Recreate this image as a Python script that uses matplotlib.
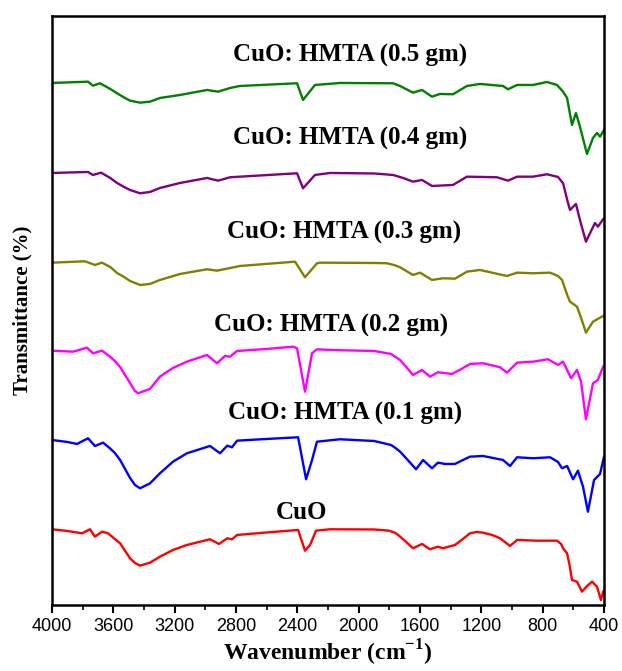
import matplotlib
matplotlib.use("Agg")
import matplotlib.pyplot as plt
from matplotlib.ticker import MultipleLocator

# Espectros FTIR (numero de onda, altura em unidades arbitrarias)
wn_cuo = [4000, 3900, 3804, 3752, 3720, 3674, 3635, 3590, 3556, 3491, 3459, 3426, 3361, 3296,
          3211, 3120, 2970, 2911, 2857, 2826, 2793, 2600, 2395, 2350, 2317, 2278, 2187, 1900,
          1802, 1760, 1730, 1690, 1646, 1587, 1535, 1483, 1450, 1372, 1320, 1274, 1230, 1189,
          1130, 1078, 1013, 967, 837, 707, 680, 667, 641, 625, 609, 576, 544, 510, 478, 446,
          420, 406]
t_cuo = [75.7, 74, 71.7, 75.7, 68.3, 73.3, 71.7, 66, 61.7, 46.7, 42, 39.3, 42.3, 48.3,
         55, 60, 65.7, 61, 66.7, 65.7, 70, 72.5, 75, 54.3, 60, 74.3, 75.7, 75.5,
         74.3, 72, 68.3, 63, 56.7, 61, 55.7, 58.3, 56.7, 60, 66, 71.7, 73, 72.3,
         70, 66.7, 59, 65, 64.3, 64.3, 61, 56.7, 51.7, 40, 25, 23.3, 13.3, 19, 23.3, 18.3,
         5, 13.3]

wn_01 = [4000, 3900, 3837, 3765, 3720, 3667, 3622, 3590, 3556, 3491, 3459, 3426, 3361, 3296,
         3211, 3120, 2970, 2904, 2857, 2826, 2793, 2600, 2395, 2343, 2304, 2272, 2122, 1900,
         1789, 1760, 1730, 1680, 1626, 1580, 1522, 1483, 1437, 1372, 1320, 1274, 1189, 1059,
         1013, 967, 863, 752, 700, 674, 641, 602, 570, 537, 505, 465, 426, 400]
t_01 = [165, 163, 161, 166.7, 159, 162.3, 156.7, 152, 145, 127, 120, 116.7, 121.6, 131.7,
        143.3, 151.7, 159, 151.7, 159.3, 157.7, 164.3, 166, 167.7, 125.7, 145, 163.3, 165.7, 164,
        160, 157, 153.3, 145, 135.7, 145, 136.7, 142.3, 141, 141, 145, 148.3, 149, 145,
        139, 147.7, 146.7, 147.7, 143, 136.7, 139, 125.7, 134.3, 118.3, 93.3, 125, 131, 148.3]

wn_02 = [4000, 3863, 3772, 3733, 3674, 3622, 3590, 3556, 3491, 3459, 3439, 3361, 3296, 3211,
         3120, 2989, 2924, 2872, 2839, 2793, 2600, 2428, 2402, 2350, 2304, 2272, 2187, 1900,
         1789, 1760, 1730, 1690, 1646, 1587, 1535, 1483, 1391, 1330, 1274, 1189, 1078, 1033,
         967, 863, 765, 700, 667, 615, 576, 550, 518, 472, 440, 406]
t_02 = [254.3, 253.3, 257.3, 251.7, 254.3, 248.3, 244, 238, 222, 214, 211.7, 216, 228.3, 237,
        243.3, 250, 241.7, 249, 248.3, 254, 256, 258.3, 256.7, 213.3, 251.7, 255.7, 255, 254,
        251, 248, 245, 238, 230, 235, 228.3, 232.7, 231, 236, 241, 241.7, 237.7, 232.3,
        242.3, 243.3, 245.7, 240, 243.3, 226.7, 235, 223.3, 185.7, 221.7, 225, 238.3]

wn_03 = [4000, 3785, 3720, 3674, 3620, 3576, 3530, 3491, 3426, 3361, 3296, 3165, 2989, 2924,
         2774, 2415, 2350, 2272, 2252, 1900, 1815, 1770, 1730, 1690, 1646, 1600, 1522, 1450,
         1372, 1294, 1209, 1033, 967, 863, 752, 700, 674, 640, 622, 576, 545, 518, 472, 406]
t_03 = [342.3, 343.7, 340, 342.3, 338, 332, 328, 324, 320, 321, 325, 331, 335.7, 334.3,
        339, 343.3, 327.7, 341.7, 342.3, 342, 341.7, 340, 337.7, 334, 330, 332.3, 325, 326.7,
        326.3, 333.3, 335, 329, 332.3, 331.7, 332.3, 329, 325, 310, 303.3, 298.3, 285, 272.3,
        283.3, 289]

wn_04 = [4000, 3765, 3733, 3680, 3620, 3576, 3530, 3491, 3426, 3361, 3296, 3165, 2989, 2917,
         2839, 2402, 2363, 2285, 2187, 1900, 1776, 1710, 1646, 1587, 1522, 1385, 1294, 1098,
         1026, 967, 863, 772, 700, 667, 640, 622, 583, 557, 518, 459, 440, 406]
t_04 = [432, 433, 430, 432.3, 427, 422, 418, 415, 411.7, 413, 417, 422, 427, 424.3,
        427.7, 431.7, 416.7, 430, 432, 431.5, 430, 427, 423.3, 425, 419, 420, 428.3, 427.7,
        424.3, 428.3, 428.3, 430.7, 428, 421.7, 405, 395, 401, 385, 363.3, 382, 378.3, 385.7]

wn_05 = [4000, 3765, 3733, 3687, 3620, 3576, 3530, 3491, 3426, 3361, 3296, 3165, 2989, 2917,
         2839, 2774, 2402, 2363, 2285, 2122, 1776, 1730, 1646, 1587, 1522, 1470, 1385, 1294,
         1209, 1059, 1026, 967, 863, 772, 707, 667, 641, 609, 583, 557, 511, 472, 446, 426, 400]
t_05 = [522, 523.3, 519.3, 521.7, 516, 511.7, 507.5, 504.3, 502.3, 503.3, 507, 510, 515, 513.3,
        517, 519, 521.7, 505, 520, 522, 521.7, 519, 512.3, 515, 508.3, 511, 510.7, 519,
        521, 519, 515.7, 520, 520, 523, 520, 513.3, 507, 480, 492, 478.3, 451, 467, 472, 468.3, 475]

rotulos = ["CuO", "CuO: HMTA (0.1 gm)", "CuO: HMTA (0.2 gm)",
           "CuO: HMTA (0.3 gm)", "CuO: HMTA (0.4 gm)", "CuO: HMTA (0.5 gm)"]
cores = ["#ff0000", "#0000ff", "#ff00ff", "#808000", "#800080", "#008000"]

espectros = [(wn_cuo, t_cuo), (wn_01, t_01), (wn_02, t_02),
             (wn_03, t_03), (wn_04, t_04), (wn_05, t_05)]

# posicao dos rotulos (centro)
pos_rotulos = [(2370, 92), (2090, 192), (2180, 280), (2096, 373), (2057, 467), (2057, 550)]

fig = plt.figure(figsize=(6.22, 6.71), dpi=100)
ax = fig.add_axes([0.0836, 0.0984, 0.8875, 0.8778])

for (wn, t), cor in zip(espectros, cores):
    ax.plot(wn, t, color=cor, linewidth=1.7, solid_joinstyle="round")

for texto, (px, py) in zip(rotulos, pos_rotulos):
    ax.text(px, py, texto, ha="center", va="center", fontsize=18,
            fontweight="bold", family="Liberation Serif")

ax.set_xlim(4000, 400)
ax.set_ylim(0, 589)
ax.xaxis.set_major_locator(MultipleLocator(400))
ax.xaxis.set_minor_locator(MultipleLocator(200))
ax.set_yticks([])
ax.tick_params(axis="x", which="major", direction="out", length=6, width=1.5,
               labelsize=13)
ax.tick_params(axis="x", which="minor", direction="out", length=3.5, width=1.2)
for lab in ax.get_xticklabels():
    lab.set_family("Liberation Sans")
for s in ax.spines.values():
    s.set_linewidth(1.8)

ax.set_xlabel("Wavenumber (cm$^{\\mathregular{-1}}$)", fontsize=17, fontweight="bold",
              family="Liberation Serif", labelpad=2)
ax.set_ylabel("Transmittance (%)", fontsize=15, fontweight="bold",
              family="Liberation Serif", labelpad=14)

fig.savefig("out.png", dpi=100)
